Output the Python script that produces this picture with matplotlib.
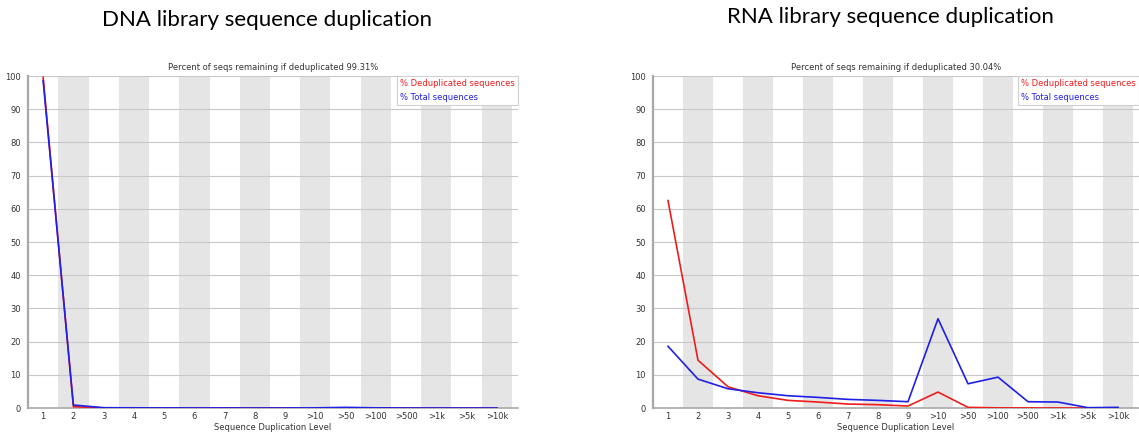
import matplotlib
matplotlib.use("Agg")
import matplotlib.pyplot as plt

levels = ["1", "2", "3", "4", "5", "6", "7", "8", "9",
          ">10", ">50", ">100", ">500", ">1k", ">5k", ">10k"]

dna_dedup = [99.6, 0.4, 0.02, 0.0, 0.0, 0.0, 0.0, 0.0, 0.0,
             0.0, 0.05, 0.0, 0.0, 0.0, 0.0, 0.0]
dna_total = [98.6, 0.9, 0.1, 0.05, 0.03, 0.02, 0.02, 0.01, 0.01,
             0.05, 0.2, 0.05, 0.0, 0.0, 0.0, 0.0]
dna_remaining = 99.31

rna_dedup = [62.5, 14.4, 6.4, 3.7, 2.3, 1.8, 1.2, 1.0, 0.6,
             4.8, 0.2, 0.05, 0.02, 0.01, 0.0, 0.0]
rna_total = [18.6, 8.7, 5.8, 4.6, 3.7, 3.2, 2.6, 2.3, 1.9,
             26.9, 7.3, 9.3, 1.9, 1.8, 0.1, 0.2]
rna_remaining = 30.04

RED = "#ee1c1c"
BLUE = "#1f1fe6"
SMALL = 6


def dup_panel(ax, dedup, total, remaining):
    x = list(range(1, len(levels) + 1))
    for k in x:
        if k % 2 == 0:
            ax.axvspan(k - 0.5, k + 0.5, color="#e5e5e5", lw=0, zorder=0)
    for y in range(10, 101, 10):
        ax.axhline(y, color="#c8c8c8", lw=0.8, zorder=1)
    ax.plot(x, dedup, color=RED, lw=1.2, zorder=3, label="% Deduplicated sequences")
    ax.plot(x, total, color=BLUE, lw=1.2, zorder=4, label="% Total sequences")
    ax.set_xlim(0.5, 16.7)
    ax.set_ylim(0, 100)
    ax.set_xticks(x)
    ax.set_xticklabels(levels)
    ax.set_yticks(range(0, 101, 10))
    ax.tick_params(length=0, labelsize=SMALL, labelcolor="#333333")
    ax.tick_params(axis="y", pad=5)
    ax.tick_params(axis="x", pad=3)
    for side in ("top", "right"):
        ax.spines[side].set_visible(False)
    ax.spines["left"].set_color("#a8a8a8")
    ax.spines["left"].set_linewidth(1.6)
    ax.spines["bottom"].set_color("#a8a8a8")
    ax.spines["bottom"].set_linewidth(1.2)
    ax.set_xlabel("Sequence Duplication Level", fontsize=SMALL, color="#333333", labelpad=1)
    ax.set_title(f"Percent of seqs remaining if deduplicated {remaining:.2f}%",
                 fontsize=SMALL, color="#333333", pad=4)
    leg = ax.legend(loc="upper right", borderaxespad=0, fontsize=SMALL,
                    handlelength=0, handletextpad=0, labelcolor="linecolor",
                    fancybox=False, framealpha=1, edgecolor="#d0d0d0",
                    borderpad=0.4, labelspacing=0.5)
    leg.get_frame().set_linewidth(0.8)
    for h in leg.legend_handles:
        h.set_visible(False)


fig = plt.figure(figsize=(11.39, 4.33), dpi=100)
ax1 = fig.add_axes([0.0246, 0.0577, 0.4302, 0.7667])
ax2 = fig.add_axes([0.5733, 0.0577, 0.4267, 0.7667])

dup_panel(ax1, dna_dedup, dna_total, dna_remaining)
dup_panel(ax2, rna_dedup, rna_total, rna_remaining)

fig.text(267 / 1139, 1 - 20 / 433, "DNA library sequence duplication",
         ha="center", va="center", fontsize=16, family="Lato")
fig.text(890 / 1139, 1 - 17 / 433, "RNA library sequence duplication",
         ha="center", va="center", fontsize=16, family="Lato")

fig.savefig("out.png", dpi=100)
